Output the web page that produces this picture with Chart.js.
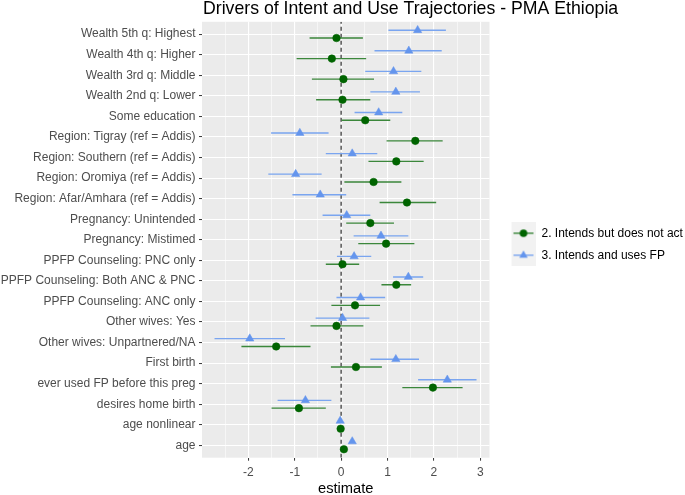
<!DOCTYPE html>
<html>
<head>
<meta charset="utf-8">
<title>Drivers of Intent and Use Trajectories - PMA Ethiopia</title>
<script src="https://cdn.jsdelivr.net/npm/chart.js@4.4.1/dist/chart.umd.min.js"></script>
<style>
  html, body { margin: 0; padding: 0; background: #fff; }
  canvas { display: block; }
</style>
</head>
<body>
<canvas id="myChart" width="685" height="495"></canvas>
<script>
// categories, top to bottom as shown
const categories = [
  "Wealth 5th q: Highest",
  "Wealth 4th q: Higher",
  "Wealth 3rd q: Middle",
  "Wealth 2nd q: Lower",
  "Some education",
  "Region: Tigray (ref = Addis)",
  "Region: Southern (ref = Addis)",
  "Region: Oromiya (ref = Addis)",
  "Region: Afar/Amhara (ref = Addis)",
  "Pregnancy: Unintended",
  "Pregnancy: Mistimed",
  "PPFP Counseling: PNC only",
  "PPFP Counseling: Both ANC & PNC",
  "PPFP Counseling: ANC only",
  "Other wives: Yes",
  "Other wives: Unpartnered/NA",
  "First birth",
  "ever used FP before this preg",
  "desires home birth",
  "age nonlinear",
  "age"
];

const seriesNames = ["2. Intends but does not act", "3. Intends and uses FP"];

// 2. Intends but does not act
const est2 = [-0.10, -0.20, 0.05, 0.03, 0.52, 1.60, 1.19, 0.70, 1.42, 0.63, 0.97, 0.03, 1.19, 0.30, -0.10, -1.40, 0.32, 1.98, -0.91, -0.01, 0.06];
const lo2  = [-0.68, -0.96, -0.63, -0.54, 0.01, 0.98, 0.59, 0.07, 0.83, 0.11, 0.37, -0.33, 0.87, -0.21, -0.66, -2.15, -0.22, 1.32, -1.50, -0.04, 0.03];
const hi2  = [0.47, 0.54, 0.71, 0.63, 1.06, 2.19, 1.78, 1.30, 2.05, 1.14, 1.58, 0.39, 1.51, 0.84, 0.48, -0.66, 0.88, 2.62, -0.33, 0.02, 0.09];

// 3. Intends and uses FP
const est3 = [1.65, 1.46, 1.13, 1.18, 0.81, -0.89, 0.24, -0.98, -0.45, 0.12, 0.86, 0.28, 1.45, 0.42, 0.03, -1.97, 1.18, 2.29, -0.77, -0.02, 0.24];
const lo3  = [1.02, 0.72, 0.52, 0.63, 0.29, -1.51, -0.33, -1.57, -1.05, -0.40, 0.27, -0.09, 1.12, -0.10, -0.55, -2.73, 0.63, 1.66, -1.37, -0.05, 0.20];
const hi3  = [2.26, 2.17, 1.73, 1.70, 1.32, -0.27, 0.78, -0.42, 0.11, 0.63, 1.45, 0.65, 1.77, 0.95, 0.61, -1.21, 1.68, 2.92, -0.21, 0.01, 0.28];

const xTicks = [-2.5, -2, -1.5, -1, -0.5, 0, 0.5, 1, 1.5, 2, 2.5, 3];
const refValue = 0;

const green = "#006400";
const greenBar = "#3B873B";
const blue = "#6495ED";
const blueBar = "#7AA5F0";
const fontFam = "'Liberation Sans', Arial, sans-serif";

const nCat = categories.length;
const yMin = 0.4;
const yMax = nCat + 0.6;
const dodge = 0.19;

function rowY(i) {
  return nCat - i;
}

function pointData(est, shift) {
  return est.map((v, i) => ({ x: v, y: rowY(i) + shift }));
}

// each interval is a little segment, broken by a null point
function barData(lo, hi, shift) {
  let out = [];
  lo.forEach((v, i) => {
    out.push({ x: v, y: rowY(i) + shift });
    out.push({ x: hi[i], y: rowY(i) + shift });
    out.push({ x: null, y: null });
  });
  return out;
}

function legendKey(color, barColor, style, r) {
  const c = document.createElement("canvas");
  c.width = 36;
  c.height = 22;
  const g = c.getContext("2d");
  g.fillStyle = "#F2F2F2";
  g.fillRect(12, 0, 24, 22);
  g.strokeStyle = barColor;
  g.lineWidth = 1.4;
  g.beginPath();
  g.moveTo(14, 11);
  g.lineTo(34, 11);
  g.stroke();
  g.fillStyle = color;
  Chart.helpers.drawPoint(g, { pointStyle: style, radius: r, borderWidth: 0 }, 24, 11);
  return c;
}

const panelBg = {
  id: "panelBg",
  beforeDraw(chart) {
    const { ctx, chartArea: a } = chart;
    ctx.save();
    ctx.fillStyle = "#EBEBEB";
    ctx.fillRect(a.left, a.top, a.width, a.height);
    ctx.restore();
  }
};

const plotTitle = {
  id: "plotTitle",
  afterDraw(chart) {
    const ctx = chart.ctx;
    ctx.save();
    ctx.font = "17.7px " + fontFam;
    ctx.fillStyle = "#000";
    ctx.textAlign = "left";
    ctx.textBaseline = "alphabetic";
    ctx.fillText("Drivers of Intent and Use Trajectories - PMA Ethiopia", chart.chartArea.left + 1, 13.5);
    ctx.restore();
  }
};

const isMajor = (c) => c.tick && Number.isInteger(c.tick.value);

const ctx = document.getElementById("myChart");
const myChart = new Chart(ctx, {
  type: "scatter",
  data: {
    datasets: [
      {
        label: "zero",
        data: [{ x: refValue, y: yMin }, { x: refValue, y: yMax }],
        showLine: true,
        borderColor: "#1A1A1A",
        borderWidth: 1.1,
        borderDash: [4, 3],
        pointRadius: 0,
        order: 5
      },
      {
        label: seriesNames[0] + " CI",
        data: barData(lo2, hi2, -dodge),
        showLine: true,
        spanGaps: false,
        borderColor: greenBar,
        borderWidth: 1.4,
        pointRadius: 0,
        order: 4
      },
      {
        label: seriesNames[1] + " CI",
        data: barData(lo3, hi3, dodge),
        showLine: true,
        spanGaps: false,
        borderColor: blueBar,
        borderWidth: 1.4,
        pointRadius: 0,
        order: 3
      },
      {
        label: seriesNames[0],
        data: pointData(est2, -dodge),
        pointStyle: "circle",
        pointRadius: 3.8,
        pointBackgroundColor: green,
        pointBorderColor: green,
        pointBorderWidth: 0.5,
        order: 2
      },
      {
        label: seriesNames[1],
        data: pointData(est3, dodge),
        pointStyle: "triangle",
        pointRadius: 4.8,
        pointBackgroundColor: blue,
        pointBorderColor: blue,
        pointBorderWidth: 0.5,
        order: 1
      }
    ]
  },
  options: {
    responsive: false,
    animation: false,
    events: [],
    layout: { padding: { top: 21.8, right: 0, bottom: 0, left: 0 } },
    scales: {
      x: {
        type: "linear",
        min: -3.0,
        max: 3.2,
        afterBuildTicks: (axis) => {
          axis.ticks = xTicks.map((v) => ({ value: v }));
        },
        afterFit: (axis) => {
          axis.height = 37.3;
        },
        border: { display: false },
        grid: {
          color: "#FFFFFF",
          lineWidth: (c) => (isMajor(c) ? 1.1 : 0.55),
          tickColor: (c) => (isMajor(c) ? "#333333" : "rgba(0,0,0,0)"),
          tickLength: 3,
          tickWidth: 1
        },
        ticks: {
          callback: (v) => (Number.isInteger(v) ? String(v) : ""),
          color: "#4D4D4D",
          font: { family: fontFam, size: 12 },
          padding: 4.5,
          maxRotation: 0,
          autoSkip: false
        },
        title: {
          display: true,
          text: "estimate",
          color: "#000",
          font: { family: fontFam, size: 14.7 },
          padding: { top: 0, bottom: -2.5 }
        }
      },
      y: {
        type: "linear",
        min: yMin,
        max: yMax,
        afterBuildTicks: (axis) => {
          axis.ticks = categories.map((c, i) => ({ value: rowY(i) }));
        },
        afterFit: (axis) => {
          axis.width = 202;
        },
        border: { display: false },
        grid: {
          color: "#FFFFFF",
          lineWidth: 1.1,
          tickColor: "#333333",
          tickLength: 3,
          tickWidth: 1
        },
        ticks: {
          callback: (v) => categories[nCat - v],
          color: "#4D4D4D",
          font: { family: fontFam, size: 12 },
          padding: 3.5,
          autoSkip: false
        }
      }
    },
    plugins: {
      tooltip: { enabled: false },
      title: { display: false },
      legend: {
        position: "right",
        align: "center",
        fullSize: false,
        maxWidth: 195.5,
        title: { display: true, text: " ", padding: 0, font: { size: 7.5 } },
        labels: {
          usePointStyle: true,
          pointStyleWidth: 36,
          padding: 10,
          color: "#000",
          font: { family: fontFam, size: 12 },
          generateLabels: () => [
            {
              text: seriesNames[0],
              pointStyle: legendKey(green, greenBar, "circle", 3.8),
              fillStyle: green,
              strokeStyle: "rgba(0,0,0,0)",
              lineWidth: 0,
              hidden: false,
              datasetIndex: 3,
              fontColor: "#000"
            },
            {
              text: seriesNames[1],
              pointStyle: legendKey(blue, blueBar, "triangle", 4.8),
              fillStyle: blue,
              strokeStyle: "rgba(0,0,0,0)",
              lineWidth: 0,
              hidden: false,
              datasetIndex: 4,
              fontColor: "#000"
            }
          ]
        }
      }
    }
  },
  plugins: [panelBg, plotTitle]
});
</script>
</body>
</html>
